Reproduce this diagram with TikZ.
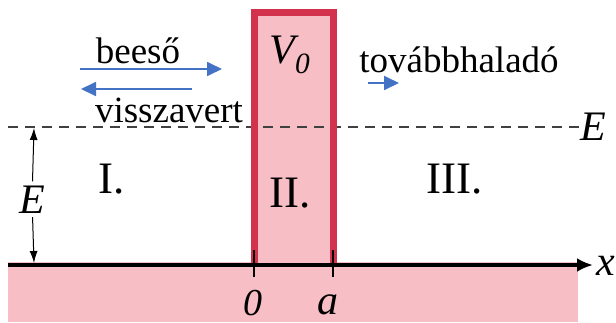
\documentclass[tikz,border=0pt]{standalone}
\usepackage{fontspec}
\setmainfont{LiberationSerif}[Extension=.ttf, UprightFont=*-Regular, ItalicFont=*-Italic, BoldFont=*-Bold]
\newfontfamily\timesbetu{LiberationSerif}[Extension=.ttf, UprightFont=*-Regular, ItalicFont=*-Italic, BoldFont=*-Bold]
\usetikzlibrary{arrows.meta}
\definecolor{rozsaszin}{RGB}{248,190,198}
\definecolor{bordo}{RGB}{210,50,75}
\definecolor{kek}{RGB}{68,114,196}
\tikzset{
  nyil/.style={draw=kek, line width=1.8pt, -{Triangle[length=15pt,width=14pt]}},
  szoveg/.style={font=\timesbetu\fontsize{37}{40}\selectfont, inner sep=0pt},
  jelolo/.style={font=\timesbetu\fontsize{42}{44}\selectfont\itshape, inner sep=0pt},
  tartomany/.style={font=\timesbetu\fontsize{45}{48}\selectfont, inner sep=0pt},
}
\begin{document}
\begin{tikzpicture}[x=1pt, y=-1pt, line cap=butt]
  \useasboundingbox (0,0) rectangle (616,322);
  % a talaj, rozsaszin
  \fill[rozsaszin] (8,262) rectangle (578,322);
  % a potencialgat kitoltese
  \fill[rozsaszin] (254.5,12.5) rectangle (333.5,265);
  % az E energiaszint, szaggatott
  \coordinate (szintbal) at (8,127);
  \node[jelolo, anchor=base] (Ejobb) at (593,140) {E};
  \draw[black!75, line width=1.3pt, dash pattern=on 10pt off 7pt]
    (szintbal) -- (Ejobb.west |- szintbal);
  % a gat kerete
  \draw[bordo, line width=7pt, line join=miter]
    (254.5,265) -- (254.5,12.5) -- (333.5,12.5) -- (333.5,265);
  % az x tengely, a ket osztasjellel
  \coordinate (tengelybal) at (8,265);
  \coordinate (tengelyveg) at (593,265);
  \draw[line width=4pt, -{Latex[length=16pt,width=14pt]}] (tengelybal) -- (tengelyveg);
  \node[jelolo, anchor=base] (xcimke) at (606,275) {x};
  \draw[line width=2pt] (254,250) -- (254,277);
  \draw[line width=2pt] (333,250) -- (333,277);
  \node[jelolo, font=\timesbetu\fontsize{38}{40}\selectfont\itshape, anchor=base] (nulla) at (253,315) {0};
  \node[jelolo, anchor=base] (aszel) at (328,314) {a};
  % az E nyil bal oldalt
  \coordinate (Efent) at (34,128);
  \coordinate (Ealul) at (34,263);
  \node[jelolo, anchor=base, inner sep=4pt] (Ebal) at (32,213) {E};
  \draw[line width=1pt, -{Latex[length=12pt,width=8pt]}] (Ebal) -- (Efent);
  \draw[line width=1pt, -{Latex[length=12pt,width=8pt]}] (Ebal) -- (Ealul);
  % V0 es a tartomanyok
  \node[jelolo, anchor=base] (Vnulla) at (290,63) {V\textsubscript{\textit{0}}};
  \node[tartomany, anchor=base] (egy) at (112,193) {I.};
  \node[tartomany, anchor=base] (ketto) at (290,207) {II.};
  \node[tartomany, anchor=base] (harom) at (455,193) {III.};
  % a hullamok iranya
  \node[szoveg, anchor=base] (beeso) at (138,63) {beeső};
  \node[szoveg, anchor=base] (vissza) at (169,122) {visszavert};
  \node[szoveg, anchor=base] (tovabb) at (459,72) {továbbhaladó};
  \coordinate (beA) at (80,69);  \coordinate (beB) at (222,69);
  \coordinate (viA) at (192,89); \coordinate (viB) at (81,89);
  \coordinate (toA) at (368,83); \coordinate (toB) at (399,83);
  \draw[nyil] (beA) -- (beB);
  \draw[nyil] (viA) -- (viB);
  \draw[nyil] (toA) -- (toB);
\end{tikzpicture}
\end{document}
